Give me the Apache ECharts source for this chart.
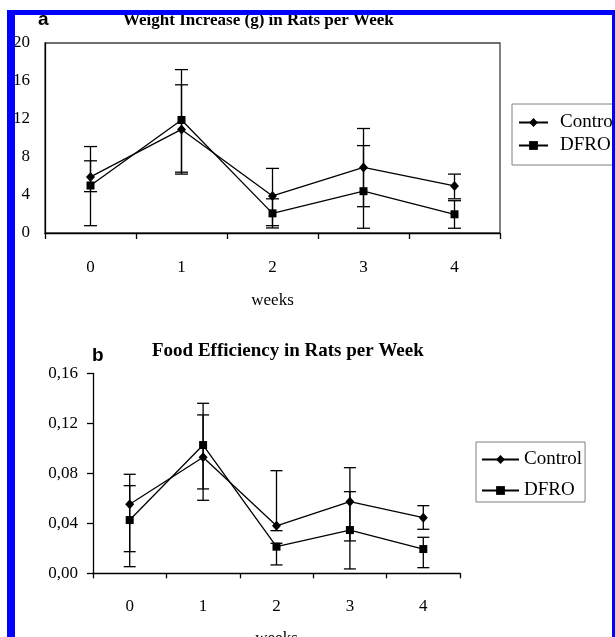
<!DOCTYPE html>
<html>
<head>
<meta charset="utf-8">
<script src="https://cdn.jsdelivr.net/npm/echarts@6/dist/echarts.min.js"></script>
<style>html,body{margin:0;padding:0;background:#fff}#c{width:615px;height:637px}</style>
</head>
<body>
<div id="c"></div>
<script>
const weeks = ['0', '1', '2', '3', '4'];

const weightTitle = 'Weight Increase (g) in Rats per Week';
const weightTicks = ['0', '4', '8', '12', '16', '20'];
const weightControl = [5.9, 10.9, 3.9, 6.9, 4.95];
const weightControlLow = [4.35, 6.2, 0.77, 2.77, 3.6];
const weightControlHigh = [7.6, 15.6, 6.8, 11.0, 6.2];
const weightDFRO = [5.0, 11.9, 2.07, 4.4, 1.97];
const weightDFROLow = [0.77, 6.4, 0.53, 0.5, 0.5];
const weightDFROHigh = [9.1, 17.2, 3.6, 9.2, 3.4];

const effTitle = 'Food Efficiency in Rats per Week';
const effTicks = ['0,00', '0,04', '0,08', '0,12', '0,16'];
const effControl = [0.0552, 0.0928, 0.038, 0.0573, 0.0445];
const effControlLow = [0.0173, 0.0584, 0.0341, 0.0259, 0.0352];
const effControlHigh = [0.0792, 0.1267, 0.0821, 0.0845, 0.0541];
const effDFRO = [0.0426, 0.1026, 0.0213, 0.0346, 0.0194];
const effDFROLow = [0.0053, 0.0675, 0.0067, 0.0035, 0.0045];
const effDFROHigh = [0.0701, 0.136, 0.024, 0.0653, 0.0288];

const seriesNames = ['Control', 'DFRO'];
const xName = 'weeks';

const serif = '"Liberation Serif", "Times New Roman", serif';
const sans = '"Liberation Sans", Arial, sans-serif';

function errData(lo, hi) { return weeks.map((w, i) => [i, lo[i], hi[i]]); }
function errSeries(name, idx, lo, hi, capHalf) {
  return {
    type: 'custom', name: name, xAxisIndex: idx, yAxisIndex: idx,
    data: errData(lo, hi), encode: { x: 0, y: [1, 2] }, z: 3, silent: true,
    renderItem: function (params, api) {
      const x = api.value(0);
      const a = api.coord([x, api.value(1)]);
      const b = api.coord([x, api.value(2)]);
      const st = { stroke: '#000', lineWidth: 1.3 };
      return { type: 'group', children: [
        { type: 'line', shape: { x1: a[0], y1: a[1], x2: b[0], y2: b[1] }, style: st },
        { type: 'line', shape: { x1: a[0] - capHalf, y1: a[1], x2: a[0] + capHalf, y2: a[1] }, style: st },
        { type: 'line', shape: { x1: b[0] - capHalf, y1: b[1], x2: b[0] + capHalf, y2: b[1] }, style: st }
      ]};
    }
  };
}
function lineSeries(name, idx, data, symbol, size) {
  return {
    type: 'line', name: name, xAxisIndex: idx, yAxisIndex: idx, data: data,
    symbol: symbol, symbolSize: size, showSymbol: true, z: 4,
    itemStyle: { color: '#000' }, lineStyle: { color: '#000', width: 1.3 },
    emphasis: { disabled: true }, animation: false
  };
}
const labelStyle = { color: '#000', fontFamily: serif, fontSize: 17 };

const chart = echarts.init(document.getElementById('c'), null, { renderer: 'canvas' });
chart.setOption({
  animation: false,
  backgroundColor: '#fff',
  title: [
    { text: weightTitle, left: 123, top: 12, padding: 0, textStyle: { fontFamily: serif, fontWeight: 'bold', fontSize: 17, color: '#000' } },
    { text: 'a', left: 38, top: 10, padding: 0, textStyle: { fontFamily: sans, fontWeight: 'bold', fontSize: 19, color: '#000' } },
    { text: effTitle, left: 152, top: 342, padding: 0, textStyle: { fontFamily: serif, fontWeight: 'bold', fontSize: 19, color: '#000' } },
    { text: 'b', left: 92, top: 346, padding: 0, textStyle: { fontFamily: sans, fontWeight: 'bold', fontSize: 19, color: '#000' } }
  ],
  legend: [
    { data: seriesNames, orient: 'vertical', left: 512, top: 104, padding: [9, 6, 10, 6], itemGap: 4,
      itemWidth: 29, itemHeight: 11, borderColor: '#808080', borderWidth: 1, selectedMode: false,
      textStyle: { fontFamily: serif, fontSize: 19, color: '#000', padding: [0, 0, 0, 7] } },
    { data: seriesNames, orient: 'vertical', left: 476, top: 442, padding: [8, 3, 2, 5], itemGap: 12,
      itemWidth: 37, itemHeight: 11, borderColor: '#808080', borderWidth: 1, selectedMode: false,
      textStyle: { fontFamily: serif, fontSize: 19, color: '#000' } }
  ],
  grid: [
    { left: 45, top: 43, width: 455, height: 190, show: true, borderColor: '#404040', borderWidth: 1.3,
      backgroundColor: 'transparent', outerBoundsMode: 'none', containLabel: false },
    { left: 93, top: 373.3, width: 367, height: 200, outerBoundsMode: 'none', containLabel: false }
  ],
  xAxis: [
    { type: 'category', gridIndex: 0, data: weeks, boundaryGap: true,
      name: xName, nameLocation: 'middle', nameGap: 59, nameTextStyle: labelStyle,
      axisLine: { lineStyle: { color: '#000', width: 1.3 } },
      axisTick: { show: true, length: 6, inside: false, lineStyle: { color: '#000', width: 1.3 } },
      axisLabel: Object.assign({ margin: 26 }, labelStyle), splitLine: { show: false } },
    { type: 'category', gridIndex: 1, data: weeks, boundaryGap: true,
      name: xName, nameLocation: 'middle', nameGap: 57, nameTextStyle: labelStyle,
      axisLine: { lineStyle: { color: '#000', width: 1.3 } },
      axisTick: { show: true, length: 5, inside: false, lineStyle: { color: '#000', width: 1.3 } },
      axisLabel: Object.assign({ margin: 25 }, labelStyle), splitLine: { show: false } }
  ],
  yAxis: [
    { type: 'value', gridIndex: 0, min: 0, max: 20, interval: 4,
      axisLine: { show: true, lineStyle: { color: '#000', width: 1.3 } },
      axisTick: { show: false }, splitLine: { show: false },
      axisLabel: Object.assign({ margin: 15, formatter: v => weightTicks[Math.round(v / 4)] }, labelStyle) },
    { type: 'value', gridIndex: 1, min: 0, max: 0.16, interval: 0.04,
      axisLine: { show: true, lineStyle: { color: '#000', width: 1.3 } },
      axisTick: { show: true, length: 6, inside: false, lineStyle: { color: '#000', width: 1.3 } }, splitLine: { show: false },
      axisLabel: Object.assign({ margin: 15, formatter: v => effTicks[Math.round(v / 0.04)] }, labelStyle) }
  ],
  series: [
    errSeries('Control SD a', 0, weightControlLow, weightControlHigh, 6.5),
    errSeries('DFRO SD a', 0, weightDFROLow, weightDFROHigh, 6.5),
    lineSeries('Control', 0, weightControl, 'diamond', [9, 10]),
    lineSeries('DFRO', 0, weightDFRO, 'rect', 8),
    errSeries('Control SD b', 1, effControlLow, effControlHigh, 6),
    errSeries('DFRO SD b', 1, effDFROLow, effDFROHigh, 6),
    lineSeries('Control', 1, effControl, 'diamond', [9, 10]),
    lineSeries('DFRO', 1, effDFRO, 'rect', 8)
  ],
  graphic: [
    { type: 'rect', z: 100, silent: true, shape: { x: 7, y: 10, width: 8, height: 627 }, style: { fill: '#0000ff' } },
    { type: 'rect', z: 100, silent: true, shape: { x: 7, y: 10, width: 608, height: 5 }, style: { fill: '#0000ff' } },
    { type: 'rect', z: 100, silent: true, shape: { x: 612, y: 10, width: 3, height: 627 }, style: { fill: '#0000ff' } }
  ]
});
</script>
</body>
</html>
